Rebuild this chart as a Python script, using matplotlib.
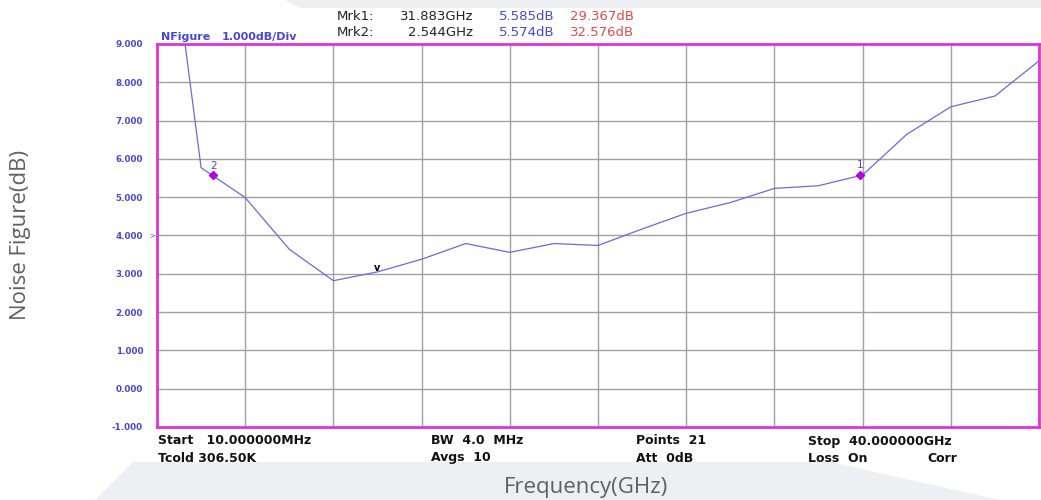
import matplotlib
matplotlib.use("Agg")
import matplotlib.pyplot as plt
from matplotlib.patches import Polygon

# Trace data (21 points, 10 MHz .. 40 GHz)
freq_ghz = [0.01, 2, 4, 6, 8, 10, 12, 14, 16, 18, 20,
            22, 24, 26, 28, 30, 32, 34, 36, 38, 40]
nf_db = [14.6, 5.77, 4.99, 3.64, 2.82, 3.05, 3.38, 3.79, 3.56, 3.79, 3.74,
         4.17, 4.58, 4.86, 5.23, 5.30, 5.58, 6.64, 7.36, 7.64, 8.56]

# Markers
marker_names = ["1", "2"]
marker_freq = [31.883, 2.544]
marker_nf = [5.585, 5.574]
marker_gain = [29.367, 32.576]

y_ticks = [9, 8, 7, 6, 5, 4, 3, 2, 1, 0, -1]
x_grid = [4, 8, 12, 16, 20, 24, 28, 32, 36]

W, H = 1041, 500
BLUE = "#4646d8"
RED = "#e84a4a"
MAGENTA = "#dd33dd"


def px(x, y):
    # pixel coords (top-left origin) -> figure fraction
    return x / W, 1 - y / H


fig = plt.figure(figsize=(W / 100, H / 100), dpi=100)
fig.patch.set_facecolor("white")

# faint background shapes behind the screenshot
top_band = [px(285, 0), px(1041, 0), px(1041, 8), px(300, 8)]
bottom_band = [px(133, 462), px(830, 462), px(1000, 500), px(95, 500)]
for pts in (top_band, bottom_band):
    fig.patches.append(Polygon(pts, closed=True, transform=fig.transFigure,
                               facecolor="#eeeff3", edgecolor="none", zorder=0))

left, top = px(157, 44)
right, bottom = px(1039, 427)
ax = fig.add_axes([left, bottom, right - left, top - bottom])

ax.plot(freq_ghz, nf_db, color="#6a6ae0", lw=0.9, zorder=3)
ax.set_xlim(0, 40)
ax.set_ylim(-1, 9)

for gx in x_grid:
    ax.axvline(gx, color="#a0a0a0", lw=1.0, zorder=1)
for gy in y_ticks[1:-1]:
    ax.axhline(gy, color="#a0a0a0", lw=1.0, zorder=1)

ax.set_xticks([])
ax.set_yticks(y_ticks)
ax.set_yticklabels([f"{v:.3f}" for v in y_ticks], color=BLUE,
                   fontsize=6.3, fontweight="bold")
ax.tick_params(axis="y", length=0, pad=10)
for s in ax.spines.values():
    s.set_color(MAGENTA)
    s.set_linewidth(2)

# marker points
for name, f, v in zip(marker_names, marker_freq, marker_nf):
    ax.plot(f, v, marker="D", color="#b400e0", ms=4.5, zorder=4)
    ax.text(f, v + 0.12, name, color=BLUE, fontsize=7.5, ha="center", va="bottom")

# minimum search marker
ax.text(10, 3.03, "v", color="black", fontsize=7, fontweight="bold",
        ha="center", va="bottom")
ax.text(-0.1, 4.0, ">", color=BLUE, fontsize=5, ha="right", va="center",
        clip_on=False)

# header text
fig.text(*px(161, 37), "NFigure", color=BLUE, fontsize=8, fontweight="bold", va="center")
fig.text(*px(222, 37), "1.000dB/Div", color=BLUE, fontsize=8, fontweight="bold", va="center")
rows_y = [17, 32]
for i, yy in enumerate(rows_y):
    fig.text(*px(337, yy), f"Mrk{marker_names[i]}:", color="#222222", fontsize=9.5, va="center")
    fig.text(*px(473, yy), f"{marker_freq[i]:.3f}GHz", color="#222222", fontsize=9.5,
             va="center", ha="right")
    fig.text(*px(499, yy), f"{marker_nf[i]:.3f}dB", color=BLUE, fontsize=9.5, va="center")
    fig.text(*px(570, yy), f"{marker_gain[i]:.3f}dB", color=RED, fontsize=9.5, va="center")

# footer text
footer = [
    (158, 441, "Start   10.000000MHz"), (158, 458, "Tcold 306.50K"),
    (431, 441, "BW  4.0  MHz"), (431, 458, "Avgs  10"),
    (636, 441, "Points  21"), (636, 458, "Att  0dB"),
    (808, 441, "Stop  40.000000GHz"), (808, 458, "Loss  On"),
    (927, 458, "Corr"),
]
for x, y, s in footer:
    fig.text(*px(x, y), s, color="#111111", fontsize=9, fontweight="bold", va="center")

# axis titles
fig.text(*px(21, 235), "Noise Figure(dB)", family="Open Sans", color="#606060",
         fontsize=16, rotation=90, ha="center", va="center")
fig.text(*px(586, 487), "Frequency(GHz)", family="Open Sans", color="#606060",
         fontsize=16, ha="center", va="center")

fig.savefig("out.png", dpi=100)
